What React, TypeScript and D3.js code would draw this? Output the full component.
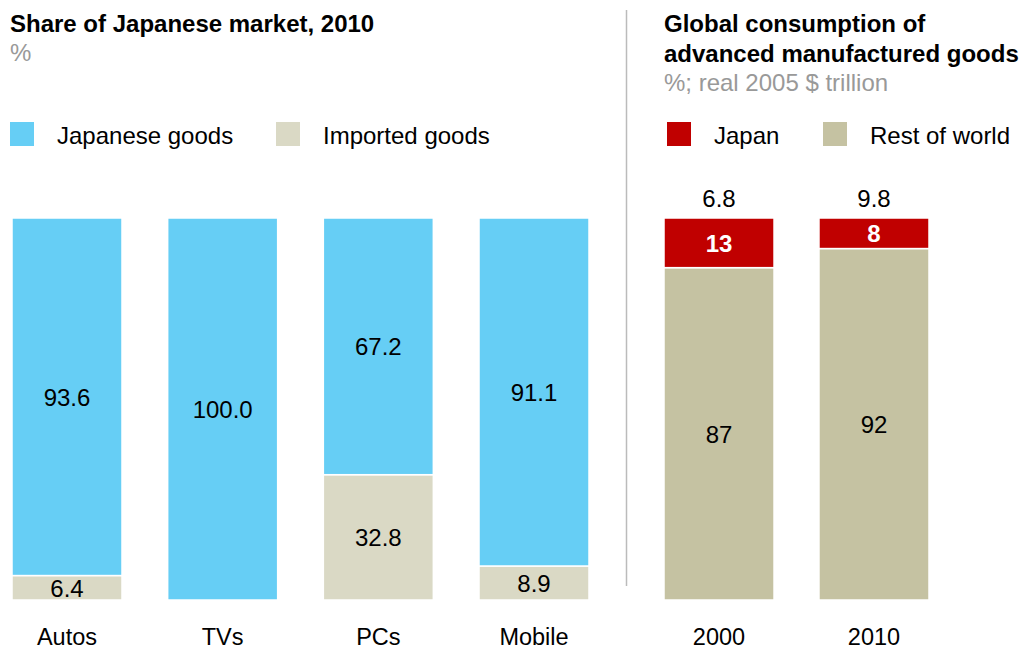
import React from "react";
import * as d3 from "d3";

const categories = ["Autos", "TVs", "PCs", "Mobile"];
const japaneseGoods = [93.6, 100.0, 67.2, 91.1];
const importedGoods = [6.4, 0, 32.8, 8.9];

const years = ["2000", "2010"];
const japanShare = [13, 8];
const restShare = [87, 92];
const totals = ["6.8", "9.8"];

const C_BLUE = "#66CEF5";
const C_BEIGE = "#DAD9C5";
const C_RED = "#C00000";
const C_TAN = "#C5C2A2";
const FONT = "'Liberation Sans', Arial, sans-serif";
const FS = 24;
const AXIS_FS = 23.5;
const AXIS_Y = 645;

export default function App() {
  const W = 1019, H = 650;
  const y = d3.scaleLinear().domain([0, 100]).range([600, 218]);
  const xL = d3.scaleBand<string>().domain(categories).range([12, 589]).paddingInner(0.2934).paddingOuter(0);
  const xR = d3.scaleBand<string>().domain(years).range([664, 929]).paddingInner(0.29).paddingOuter(0);

  const seg = (x: number, w: number, v0: number, v1: number, fill: string, key: string) => (
    <rect key={key} x={x} y={y(v1)} width={w} height={Math.max(0, y(v0) - y(v1))} fill={fill} stroke="#fff" strokeWidth={1.5} />
  );

  return (
    <svg width={W} height={H} style={{ position: "absolute", left: 0, top: 0, fontFamily: FONT }}>
      <rect width={W} height={H} fill="#fff" />
      {/* Left titles */}
      <text x={10} y={32} fontSize={FS} fontWeight="bold" fill="#000">Share of Japanese market, 2010</text>
      <text x={10} y={61} fontSize={FS} fill="#999">%</text>
      {/* Left legend */}
      <rect x={10} y={122} width={24} height={24} fill={C_BLUE} />
      <text x={57} y={144} fontSize={FS} fill="#000">Japanese goods</text>
      <rect x={276} y={122} width={24} height={24} fill={C_BEIGE} />
      <text x={323} y={144} fontSize={FS} fill="#000">Imported goods</text>

      {/* Divider */}
      <line x1={626.5} x2={626.5} y1={10} y2={586} stroke="#bbb" strokeWidth={1.5} />

      {/* Right titles */}
      <text x={664} y={32} fontSize={FS} fontWeight="bold" fill="#000">Global consumption of</text>
      <text x={664} y={62} fontSize={FS} fontWeight="bold" fill="#000">advanced manufactured goods</text>
      <text x={664} y={91} fontSize={FS} fill="#999">%; real 2005 $ trillion</text>
      {/* Right legend */}
      <rect x={667} y={122} width={24} height={24} fill={C_RED} />
      <text x={714} y={144} fontSize={FS} fill="#000">Japan</text>
      <rect x={823} y={122} width={24} height={24} fill={C_TAN} />
      <text x={870} y={144} fontSize={FS} fill="#000">Rest of world</text>

      {/* Left bars */}
      {categories.map((c, i) => {
        const x = xL(c)!;
        const w = xL.bandwidth();
        const imp = importedGoods[i];
        const jp = japaneseGoods[i];
        const cx = x + w / 2;
        return (
          <g key={c}>
            {imp > 0 && seg(x, w, 0, imp, C_BEIGE, "imp")}
            {seg(x, w, imp, 100, C_BLUE, "jp")}
            <text x={cx} y={(y(imp) + y(100)) / 2 + 9} fontSize={FS} textAnchor="middle" fill="#000">{jp.toFixed(1)}</text>
            {imp > 0 && (
              <text x={cx} y={Math.min((y(0) + y(imp)) / 2 + 9, 598)} fontSize={FS} textAnchor="middle" fill="#000">{imp.toFixed(1)}</text>
            )}
            <text x={cx} y={AXIS_Y} fontSize={AXIS_FS} textAnchor="middle" fill="#000">{c}</text>
          </g>
        );
      })}

      {/* Right bars */}
      {years.map((yr, i) => {
        const x = xR(yr)!;
        const w = xR.bandwidth();
        const r = restShare[i];
        const cx = x + w / 2;
        return (
          <g key={yr}>
            {seg(x, w, 0, r, C_TAN, "rest")}
            {seg(x, w, r, 100, C_RED, "jp")}
            <text x={cx} y={(y(0) + y(r)) / 2 + 9} fontSize={FS} textAnchor="middle" fill="#000">{r}</text>
            <text x={cx} y={(y(r) + y(100)) / 2 + 9} fontSize={FS} fontWeight="bold" textAnchor="middle" fill="#fff">{japanShare[i]}</text>
            <text x={cx} y={207} fontSize={FS} textAnchor="middle" fill="#000">{totals[i]}</text>
            <text x={cx} y={AXIS_Y} fontSize={AXIS_FS} textAnchor="middle" fill="#000">{yr}</text>
          </g>
        );
      })}
    </svg>
  );
}
